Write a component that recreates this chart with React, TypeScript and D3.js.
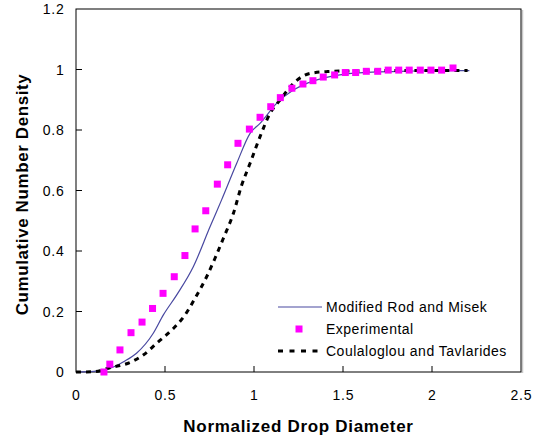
import React, { useEffect, useRef } from 'react'
import * as d3 from 'd3'

// experimental points
const expX = [0.157, 0.19, 0.247, 0.309, 0.371, 0.43, 0.489, 0.552, 0.612, 0.669, 0.729, 0.794, 0.852, 0.91, 0.974, 1.034, 1.094, 1.148, 1.213, 1.275, 1.331, 1.389, 1.453, 1.513, 1.571, 1.631, 1.695, 1.754, 1.813, 1.872, 1.934, 1.994, 2.054, 2.118]
const expY = [0.0, 0.026, 0.073, 0.13, 0.165, 0.21, 0.26, 0.315, 0.385, 0.473, 0.533, 0.621, 0.685, 0.756, 0.803, 0.842, 0.877, 0.907, 0.938, 0.952, 0.963, 0.975, 0.982, 0.99, 0.99, 0.994, 0.994, 0.998, 0.998, 0.998, 0.998, 0.998, 0.998, 1.005]

// modified rod and misek
const rodX = [0, 0.1, 0.19, 0.27, 0.34, 0.434, 0.49, 0.566, 0.659, 0.753, 0.818, 0.903, 0.978, 1.034, 1.127, 1.221, 1.3, 1.4, 1.5, 1.7, 1.9, 2.1, 2.21]
const rodY = [0, 0.002, 0.012, 0.035, 0.062, 0.128, 0.188, 0.255, 0.348, 0.48, 0.569, 0.69, 0.789, 0.822, 0.888, 0.932, 0.955, 0.973, 0.984, 0.992, 0.995, 0.996, 0.996]

// coulaloglou and tavlarides
const coulX = [0, 0.1, 0.19, 0.313, 0.378, 0.453, 0.547, 0.612, 0.669, 0.734, 0.781, 0.828, 0.884, 0.931, 0.978, 1.034, 1.09, 1.146, 1.221, 1.315, 1.41, 1.6, 1.8, 2.0, 2.2]
const coulY = [0, 0.001, 0.014, 0.034, 0.056, 0.095, 0.144, 0.188, 0.244, 0.315, 0.376, 0.442, 0.524, 0.618, 0.69, 0.778, 0.855, 0.899, 0.954, 0.987, 0.993, 0.996, 0.997, 0.997, 0.997]

const xTicks = [0, 0.5, 1, 1.5, 2, 2.5]
const yTicks = [0, 0.2, 0.4, 0.6, 0.8, 1, 1.2]
const legendLabels = ['Modified Rod and Misek', 'Experimental', 'Coulaloglou and Tavlarides']

export default function App() {
    const ref = useRef<SVGSVGElement>(null)

    let width = 541, height = 438
    let left = 76, right = 521, top = 9, bottom = 372
    let font = '"Liberation Sans", Arial, sans-serif'

    useEffect(() => {
        const svg = d3.select(ref.current)
        svg.selectAll('*').remove()

        const x = d3.scaleLinear().domain([0, 2.5]).range([left, right])
        const y = d3.scaleLinear().domain([0, 1.2]).range([bottom, top])

        // plot frame, with a faint shadow at the right
        svg.append('line')
            .attr('x1', right + 1.5).attr('x2', right + 1.5)
            .attr('y1', top + 1).attr('y2', bottom + 1)
            .attr('stroke', '#c8c8c8').attr('stroke-width', 1.5)
        svg.append('rect')
            .attr('x', left).attr('y', top)
            .attr('width', right - left).attr('height', bottom - top)
            .attr('fill', 'white').attr('stroke', 'black').attr('stroke-width', 1)

        // ticks point inwards
        svg.append('g').selectAll('line')
            .data(xTicks.slice(1, -1))
            .enter().append('line')
            .attr('x1', (d: number) => x(d)).attr('x2', (d: number) => x(d))
            .attr('y1', bottom).attr('y2', bottom - 6)
            .attr('stroke', 'black')
        svg.append('g').selectAll('line')
            .data(yTicks.slice(1, -1))
            .enter().append('line')
            .attr('x1', left).attr('x2', left + 6)
            .attr('y1', (d: number) => y(d)).attr('y2', (d: number) => y(d))
            .attr('stroke', 'black')

        svg.append('g').selectAll('text')
            .data(xTicks)
            .enter().append('text')
            .attr('x', (d: number) => x(d) + 0.4)
            .attr('y', 400)
            .attr('text-anchor', 'middle')
            .style('font-family', font).style('font-size', '14px').style('letter-spacing', '0.8px')
            .text((d: number) => String(d))
        svg.append('g').selectAll('text')
            .data(yTicks)
            .enter().append('text')
            .attr('x', 64.5)
            .attr('y', (d: number) => y(d) + 5)
            .attr('text-anchor', 'end')
            .style('font-family', font).style('font-size', '14px').style('letter-spacing', '0.8px')
            .text((d: number) => String(d))

        svg.append('text')
            .attr('x', (left + right) / 2).attr('y', 432)
            .attr('text-anchor', 'middle')
            .style('font-family', font).style('font-size', '17px').style('font-weight', 'bold')
            .style('letter-spacing', '0.7px')
            .text('Normalized Drop Diameter')
        svg.append('text')
            .attr('transform', 'translate(28,' + ((top + bottom) / 2 + 4) + ') rotate(-90)')
            .attr('text-anchor', 'middle')
            .style('font-family', font).style('font-size', '17px').style('font-weight', 'bold')
            .style('letter-spacing', '0.6px')
            .text('Cumulative Number Density')

        const line = d3.line<number>()
            .x((d: number) => x(d))
            .curve(d3.curveMonotoneX)

        svg.append('path')
            .attr('d', line.y((d: number, i: number) => y(rodY[i]))(rodX))
            .attr('fill', 'none').attr('stroke', '#4848a0').attr('stroke-width', 1.2)

        svg.append('path')
            .attr('d', line.y((d: number, i: number) => y(coulY[i]))(coulX))
            .attr('fill', 'none').attr('stroke', 'black').attr('stroke-width', 3)
            .attr('stroke-dasharray', '5,5')

        svg.append('g').selectAll('rect')
            .data(expX)
            .enter().append('rect')
            .attr('x', (d: number) => x(d) - 3.5)
            .attr('y', (d: number, i: number) => y(expY[i]) - 3.5)
            .attr('width', 7).attr('height', 7)
            .attr('fill', '#ff00ff')

        // legend
        let legY = [307, 329, 351]
        let legend = svg.append('g')
        legend.append('line')
            .attr('x1', 278).attr('x2', 322).attr('y1', legY[0]).attr('y2', legY[0])
            .attr('stroke', '#4848a0').attr('stroke-width', 1.2)
        legend.append('rect')
            .attr('x', 295.5).attr('y', legY[1] - 3.5).attr('width', 7).attr('height', 7)
            .attr('fill', '#ff00ff')
        legend.append('line')
            .attr('x1', 278).attr('x2', 323).attr('y1', legY[2]).attr('y2', legY[2])
            .attr('stroke', 'black').attr('stroke-width', 3).attr('stroke-dasharray', '5,6.5')
        legend.selectAll('text')
            .data(legendLabels)
            .enter().append('text')
            .attr('x', 326)
            .attr('y', (d: string, i: number) => legY[i] + 5)
            .style('font-family', font).style('font-size', '14px').style('letter-spacing', '0.5px')
            .text((d: string) => d)
    }, [])

    return (
        <div style={{ position: 'absolute', left: 0, top: 0 }}>
            <svg ref={ref} width={width} height={height} style={{ display: 'block', background: 'white' }} />
        </div>
    )
}
